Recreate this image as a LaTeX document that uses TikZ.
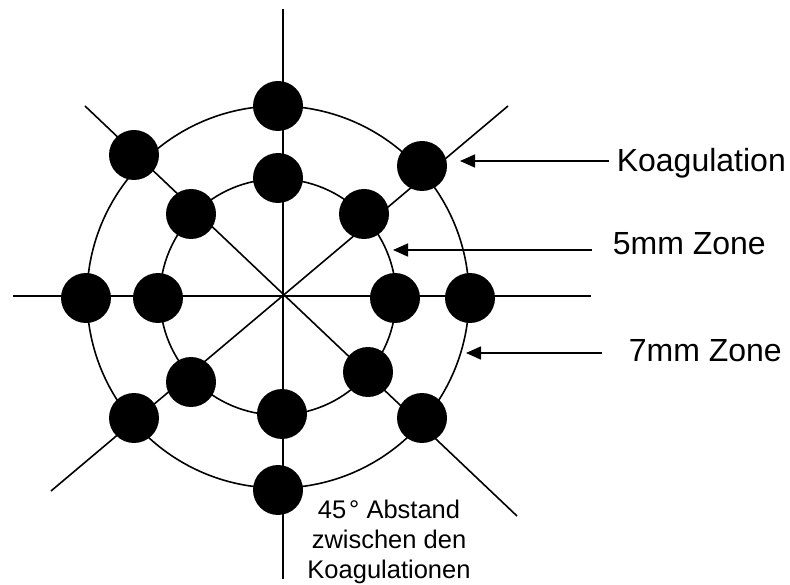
\documentclass[tikz,border=0pt]{standalone}
\usepackage{fontspec}
\setmainfont{Liberation Sans}
\usetikzlibrary{arrows.meta,calc}

\begin{document}
\begin{tikzpicture}[x=1pt,y=-1pt,line width=1.6pt,
  dot/.style={circle,fill,inner sep=0pt,minimum size=50pt},
  pfeil/.style={-{Triangle[length=15pt,width=13pt]}},
  lbl/.style={inner sep=0pt,anchor=base west,font=\fontsize{32}{38}\selectfont}]
\useasboundingbox (0,0) rectangle (790,585);
\coordinate (C) at (278,297);
\draw (283,9) -- (283,579);
\draw (13,296) -- (591,296);
\draw (85,106) -- (517,516);
\draw (508,106) -- (51,491);
\draw (C) circle (191pt);
\draw (C) circle (118pt);
\foreach \n/\x/\y in {oT/278/106,oUL/134/155,oL/86/298,oLL/134/418,
  oB/278/490,oLR/422/418,oR/470/298,oUR/422/166}
  \node[dot] (\n) at (\x,\y) {};
\foreach \n/\x/\y in {iT/278/178,iUL/191/214,iL/158/298,iLL/191/382,
  iB/282/414,iLR/368/372,iR/395/298,iUR/364/214}
  \node[dot] (\n) at (\x,\y) {};
\node[lbl] (koag) at (616,172) {Koagulation};
\node[lbl] (fuenf) at (612,255) {5mm Zone};
\node[lbl] (sieben) at (628,362) {7mm Zone};
\coordinate (kz) at (460,161);
\coordinate (fz) at (393,250);
\coordinate (sz) at (466,353);
\draw[pfeil] ($(kz -| koag.west)+(-7,0)$) -- (kz);
\draw[pfeil] ($(fz -| fuenf.west)+(-20,0)$) -- (fz);
\draw[pfeil] ($(sz -| sieben.west)+(-26,0)$) -- (sz);
\node[anchor=north,align=center,inner sep=0pt,font=\fontsize{25.5}{30}\selectfont]
  (abst) at (389,499) {45\kern3pt° Abstand\\zwischen den\\Koagulationen};
\end{tikzpicture}
\end{document}
